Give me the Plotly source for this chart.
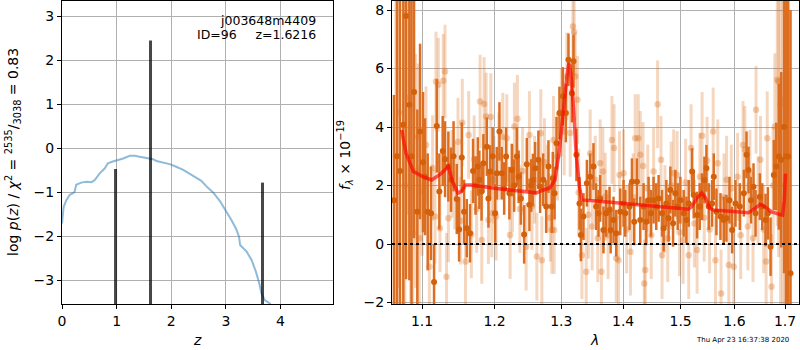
import plotly.graph_objects as go

# ---------------- left panel: log p(z) ----------------
z_grid = [0, 0.03, 0.08, 0.14, 0.20, 0.23, 0.26, 0.35, 0.45, 0.54,
          0.60, 0.69, 0.78, 0.84, 0.93, 1.03, 1.12, 1.24, 1.33, 1.42,
          1.58, 1.67, 1.73, 1.85, 1.97, 2.09, 2.22, 2.34, 2.46, 2.55,
          2.64, 2.77, 2.89, 3.01, 3.10, 3.19, 3.24, 3.26, 3.38, 3.47,
          3.55, 3.61, 3.65, 3.71, 3.82]
log_pz = [-1.71, -1.33, -1.18, -1.06, -1.02, -0.99, -0.83, -0.78, -0.76, -0.77,
          -0.72, -0.57, -0.46, -0.34, -0.30, -0.27, -0.23, -0.17, -0.17, -0.19,
          -0.23, -0.25, -0.29, -0.32, -0.36, -0.42, -0.49, -0.58, -0.68, -0.74,
          -0.86, -1.01, -1.20, -1.44, -1.63, -1.84, -2.01, -2.20, -2.35, -2.54,
          -2.81, -3.07, -3.30, -3.45, -3.54]
peak_z = [0.98, 1.62, 3.67]
peak_height = [-0.47, 2.45, -0.78]
peak_base = -4.0

# ---------------- right panel: spectrum ----------------
dark_lam = [1.0636, 1.0675, 1.0713, 1.0756, 1.0791, 1.0834, 1.0862, 1.0895, 1.0938, 1.0974,
            1.1013, 1.1040, 1.1075, 1.1119, 1.1160, 1.1196, 1.1231, 1.1276, 1.1308, 1.1353,
            1.1389, 1.1424, 1.1468, 1.1500, 1.1537, 1.1569, 1.1606, 1.1652, 1.1694, 1.1729,
            1.1761, 1.1783, 1.1814, 1.1840, 1.1889, 1.1912, 1.1936, 1.1972, 1.2008, 1.2032,
            1.2070, 1.2104, 1.2139, 1.2167, 1.2215, 1.2251, 1.2285, 1.2325, 1.2351, 1.2384,
            1.2433, 1.2473, 1.2512, 1.2539, 1.2564, 1.2598, 1.2648, 1.2674, 1.2720, 1.2766,
            1.2801, 1.2853, 1.2868, 1.2895, 1.2925, 1.2971, 1.3025, 1.3071, 1.3112, 1.3166,
            1.3191, 1.3238, 1.3286, 1.3309, 1.3350, 1.3405, 1.3458, 1.3511, 1.3555, 1.3593,
            1.3620, 1.3674, 1.3719, 1.3774, 1.3793, 1.3840, 1.3885, 1.3952, 1.4007, 1.4036,
            1.4109, 1.4149, 1.4188, 1.4234, 1.4291, 1.4348, 1.4395, 1.4434, 1.4476, 1.4521,
            1.4568, 1.4609, 1.4669, 1.4697, 1.4745, 1.4785, 1.4816, 1.4864, 1.4905, 1.4947,
            1.4995, 1.5055, 1.5104, 1.5146, 1.5208, 1.5237, 1.5299, 1.5347, 1.5391, 1.5434,
            1.5471, 1.5514, 1.5577, 1.5608, 1.5658, 1.5734, 1.5796, 1.5847, 1.5905, 1.5956,
            1.6020, 1.6103, 1.6181, 1.6233, 1.6272, 1.6321, 1.6370, 1.6410, 1.6495, 1.6542,
            1.6608, 1.6654, 1.6708, 1.6774, 1.6823, 1.6875, 1.6924, 1.6981, 1.7021, 1.7066,
            1.7113]
dark_flux = [1.5, 3.0, 2.5, 4.08, 7.8, 4.76, 3.0, 5.2, 1.1, 3.85,
             2.8, 2.3, 1.1, 1.05, -1.3, 4.04, 1.8, 3.18, 2.9, 2.65,
             2.2, 3.0, 1.54, 0.5, 2.96, 1.1, 0.54, 0.37, 2.5, 2.0,
             2.65, 2.2, 1.8, 2.76, 3.33, 1.56, 2.48, 3.0, 1.05, 2.42,
             3.85, 2.42, 1.9, 2.99, 1.74, 2.53, 2.0, 2.99, 2.3, 1.56,
             0.33, 2.73, 1.34, 2.0, 2.19, 2.59, 2.88, 1.96, 2.2, 1.28,
             2.65, 1.28, 2.25, 1.74, 3.45, 4.48, 5.05, 4.48, 6.3, 5.16,
             6.25, 3.05, 1.39, 0.31, 0.94, 2.08, 2.3, 2.65, 1.28, 1.05,
             1.56, 0.48, 1.05, 1.16, 0.48, 0.82, 0.37, 1.1, 1.39, 1.05,
             1.28, 2.13, 0.76, 2.13, 0.82, 1.28, 0.76, 1.5, 1.05, 1.5,
             1.28, 1.56, 1.05, 0.54, 1.39, 0.88, 1.85, 0.71, 1.74, 1.28,
             1.5, 1.05, 0.82, 1.39, 2.48, 1.68, 0.99, 1.28, 1.62, 2.19,
             2.59, 1.28, 1.39, 2.3, 1.1, 0.94, 0.82, 0.88, 1.5, 0.48,
             1.39, 1.28, 1.74, 3.05, 2.53, 1.5, 1.96, 1.05, 1.62, 1.28,
             0.82, 1.05, -0.09, 2.36, 2.65, 2.99, 2.88, 4.0, 3.0, 2.99,
             -1.0]
dark_err = [3.6, 9.0, 8.0, 8.0, 9.0, 6.0, 6.0, 5.0, 3.5, 3.0,
            2.4, 2.0, 2.0, 1.6, 1.3, 1.6, 1.3, 1.2, 1.3, 1.2,
            1.1, 1.2, 1.2, 1.1, 1.2, 1.1, 1.0, 1.0, 1.1, 1.0,
            1.0, 1.0, 1.0, 1.0, 1.0, 1.0, 0.9, 1.0, 1.0, 0.9,
            1.0, 0.9, 0.9, 1.0, 0.9, 0.9, 0.9, 1.0, 0.9, 0.9,
            1.0, 0.9, 0.9, 0.9, 0.9, 0.9, 1.0, 0.9, 0.9, 0.9,
            0.9, 0.9, 0.9, 0.9, 0.9, 0.9, 1.0, 1.0, 0.9, 1.0,
            0.9, 0.9, 0.9, 0.9, 0.8, 0.8, 0.8, 0.8, 0.8, 0.8,
            0.8, 0.8, 0.8, 0.8, 0.8, 0.8, 0.8, 0.8, 0.8, 0.8,
            0.8, 0.8, 0.8, 0.8, 0.8, 0.8, 0.8, 0.8, 0.8, 0.8,
            0.8, 0.8, 0.8, 0.8, 0.8, 0.8, 0.8, 0.8, 0.8, 0.8,
            0.8, 0.8, 0.8, 0.8, 0.8, 0.8, 0.8, 0.8, 0.8, 0.8,
            0.8, 0.8, 0.8, 0.8, 0.8, 0.8, 0.8, 0.8, 0.8, 0.8,
            0.8, 0.8, 0.8, 0.8, 0.8, 0.8, 0.8, 0.8, 0.8, 0.8,
            0.9, 0.9, 1.0, 1.2, 1.5, 2.5, 3.0, 5.0, 8.0, 9.0,
            9.0]

light_lam = [1.0660, 1.0700, 1.0775, 1.0821, 1.0850, 1.0878, 1.0915, 1.0951, 1.0964, 1.1000,
             1.1053, 1.1097, 1.1140, 1.1173, 1.1186, 1.1217, 1.1239, 1.1284, 1.1308, 1.1328,
             1.1353, 1.1401, 1.1441, 1.1485, 1.1520, 1.1544, 1.1589, 1.1633, 1.1670, 1.1710,
             1.1745, 1.1793, 1.1817, 1.1850, 1.1879, 1.1912, 1.1946, 1.1960, 1.1990, 1.2022,
             1.2060, 1.2119, 1.2177, 1.2226, 1.2260, 1.2289, 1.2333, 1.2370, 1.2410, 1.2463,
             1.2512, 1.2550, 1.2590, 1.2624, 1.2684, 1.2700, 1.2740, 1.2785, 1.2830, 1.2853,
             1.2878, 1.2889, 1.2940, 1.3000, 1.3045, 1.3087, 1.3140, 1.3182, 1.3202, 1.3218,
             1.3254, 1.3273, 1.3325, 1.3394, 1.3430, 1.3458, 1.3490, 1.3540, 1.3580, 1.3620,
             1.3640, 1.3664, 1.3703, 1.3750, 1.3813, 1.3850, 1.3885, 1.3923, 1.3940, 1.4007,
             1.4060, 1.4124, 1.4170, 1.4205, 1.4257, 1.4291, 1.4338, 1.4360, 1.4377, 1.4420,
             1.4480, 1.4521, 1.4591, 1.4651, 1.4669, 1.4720, 1.4770, 1.4830, 1.4875, 1.4936,
             1.4980, 1.5044, 1.5090, 1.5146, 1.5189, 1.5250, 1.5299, 1.5350, 1.5391, 1.5430,
             1.5484, 1.5530, 1.5597, 1.5640, 1.5683, 1.5745, 1.5800, 1.5850, 1.5892, 1.5940,
             1.5987, 1.6060, 1.6120, 1.6165, 1.6200, 1.6260, 1.6300, 1.6360, 1.6420, 1.6460,
             1.6507, 1.6570, 1.6620, 1.6642, 1.6728, 1.6760, 1.6794, 1.6843, 1.6870, 1.6910,
             1.6957, 1.7000]
light_flux = [3.0, 4.5, 2.0, 5.0, 3.0, 0.37, 2.5, 3.67, 0.2, 1.8,
              3.39, -0.78, 2.6, 0.94, 5.56, 5.45, 0.54, 5.58, 5.9, -1.12,
              0.88, 2.4, 2.0, 3.5, 0.8, 4.15, -0.6, 3.73, 0.33, 2.9,
              1.2, 4.87, 0.14, 4.79, 4.36, 0.82, 4.34, 1.05, 2.2, 0.94,
              3.0, 3.67, 3.62, 0.31, 1.9, 4.02, 4.28, 1.2, 2.5, -0.09,
              3.73, 1.3, 2.2, -0.43, 3.79, -0.55, 2.8, 1.9, 0.9, 0.48,
              3.56, 0.48, 2.99, 4.5, 3.85, 5.73, 3.8, 7.44, 7.25, 5.73,
              4.93, 1.76, -0.38, -0.95, 1.0, 3.1, 0.6, 2.2, 0.2, 2.76,
              -0.95, 2.48, 1.62, 0.3, 3.56, 3.28, -0.49, -0.55, 2.36, 2.42,
              0.5, -0.26, 1.6, 3.62, 3.62, 3.05, 2.67, -1.35, -0.89, 1.9,
              0.3, 2.48, 4.78, 2.88, -0.38, 1.2, 0.2, 2.0, 2.42, 2.36,
              0.4, 0.14, 2.1, -0.38, 3.28, 0.7, -0.2, 2.3, 3.7, 0.9,
              2.85, 0.5, 3.85, -0.55, 2.76, -1.69, 1.6, 2.2, -0.72, 1.9,
              -0.78, 2.3, 0.3, 3.39, 3.22, 0.6, 2.4, 0.2, 4.59, 1.5,
              2.88, 0.5, -0.6, 3.62, -1.46, 2.0, 4.02, 5.62, 5.56, 4.76,
              4.93, 2.0]
light_err = [7.0, 6.0, 7.0, 4.0, 5.0, 3.0, 4.0, 2.5, 2.5, 2.2,
             2.0, 1.8, 1.8, 1.6, 1.7, 1.6, 1.5, 1.6, 1.6, 1.5,
             1.5, 1.5, 1.5, 1.5, 1.5, 1.5, 1.5, 1.5, 1.5, 1.5,
             1.5, 1.6, 1.5, 1.6, 1.5, 1.5, 1.5, 1.5, 1.5, 1.5,
             1.5, 1.5, 1.5, 1.5, 1.5, 1.5, 1.5, 1.5, 1.5, 1.5,
             1.5, 1.5, 1.5, 1.5, 1.5, 1.5, 1.5, 1.5, 1.5, 1.5,
             1.5, 1.5, 1.5, 1.5, 1.5, 1.5, 1.5, 1.5, 1.5, 1.5,
             1.5, 1.5, 1.5, 1.5, 1.5, 1.5, 1.5, 1.5, 1.5, 1.5,
             1.5, 1.5, 1.5, 1.5, 1.5, 1.5, 1.5, 1.5, 1.5, 1.5,
             1.5, 1.5, 1.5, 1.5, 1.5, 1.5, 1.5, 1.5, 1.5, 1.5,
             1.5, 1.5, 1.5, 1.5, 1.5, 1.5, 1.5, 1.5, 1.5, 1.5,
             1.5, 1.5, 1.5, 1.5, 1.5, 1.5, 1.5, 1.5, 1.5, 1.5,
             1.5, 1.5, 1.5, 1.5, 1.5, 1.5, 1.5, 1.5, 1.5, 1.5,
             1.5, 1.5, 1.5, 1.5, 1.5, 1.5, 1.5, 1.5, 1.5, 1.5,
             1.5, 1.5, 1.6, 1.6, 1.8, 2.0, 2.5, 5.0, 6.0, 7.0,
             7.0, 8.0]

model_lam = [1.0734, 1.0791, 1.0886, 1.1017, 1.1128, 1.1250, 1.1353, 1.1410, 1.1485, 1.1530,
             1.1589, 1.1662, 1.2027, 1.2319, 1.2518, 1.2618, 1.2719, 1.2821, 1.2853, 1.2901,
             1.2971, 1.3030, 1.3087, 1.3118, 1.3149, 1.3191, 1.3233, 1.3286, 1.3325, 1.3560,
             1.4116, 1.4693, 1.5139, 1.5200, 1.5291, 1.5383, 1.5445, 1.5537, 1.5600, 1.5916,
             1.6270, 1.6368, 1.6500, 1.6599, 1.6732, 1.6900, 1.6950, 1.6985, 1.7010]
model_flux = [3.9, 3.1, 2.48, 2.3, 2.19, 2.4, 2.65, 2.13, 1.74, 1.79,
              2.02, 2.02, 1.90, 1.82, 1.75, 1.75, 1.84, 1.92, 2.02, 2.19,
              3.22, 4.59, 5.73, 6.19, 5.85, 4.70, 3.10, 1.96, 1.51, 1.47,
              1.36, 1.27, 1.19, 1.27, 1.56, 1.75, 1.61, 1.22, 1.16, 1.12,
              1.07, 1.18, 1.36, 1.27, 1.10, 1.01, 0.99, 1.5, 2.41]

lam_ticks = [1.1, 1.2, 1.3, 1.4, 1.5, 1.6, 1.7]
flux_ticks = [-2, 0, 2, 4, 6, 8]
z_ticks = [0, 1, 2, 3, 4]
logp_ticks = [-3, -2, -1, 0, 1, 2, 3]

obj_name = "j003648m4409"
obj_id = 96
z_best = 1.6216
timestamp = "Thu Apr 23 16:37:38 2020"


def minus(v):
    s = f"{v:g}"
    return s.replace("-", "\u2212")


W, H = 800, 350
FONT = "DejaVu Sans"
DARK_BAR = "rgb(220,110,34)"
DARK_MK = "rgb(212,96,10)"
LIGHT_BAR = "rgba(217,95,2,0.25)"
LIGHT_MK = "rgba(217,95,2,0.30)"

fig = go.Figure()

# left panel
fig.add_trace(go.Scatter(x=z_grid, y=log_pz, mode="lines",
                         line=dict(color="rgba(31,119,180,0.5)", width=2),
                         xaxis="x", yaxis="y", showlegend=False))
vx, vy = [], []
for zp, hp in zip(peak_z, peak_height):
    vx += [zp, zp, None]
    vy += [peak_base, hp, None]
fig.add_trace(go.Scatter(x=vx, y=vy, mode="lines",
                         line=dict(color="rgba(0,0,0,0.72)", width=3),
                         xaxis="x", yaxis="y", showlegend=False))

# right panel
fig.add_trace(go.Scatter(x=light_lam, y=light_flux, mode="markers",
                         marker=dict(color=LIGHT_MK, size=6.5, line=dict(width=0)),
                         error_y=dict(type="data", array=light_err, color=LIGHT_BAR,
                                      thickness=3, width=0),
                         xaxis="x2", yaxis="y2", showlegend=False))
fig.add_trace(go.Scatter(x=dark_lam, y=dark_flux, mode="markers",
                         marker=dict(color=DARK_MK, size=6, line=dict(width=0)),
                         error_y=dict(type="data", array=dark_err, color=DARK_BAR,
                                      thickness=2.5, width=0),
                         xaxis="x2", yaxis="y2", showlegend=False))
fig.add_trace(go.Scatter(x=model_lam, y=model_flux, mode="lines",
                         line=dict(color="rgba(255,0,0,0.65)", width=3.5),
                         xaxis="x2", yaxis="y2", showlegend=False))

ydom = [(H - 304) / H, (H - 1) / H]
axis_common = dict(showline=True, mirror=True, linecolor="black", linewidth=1,
                   ticks="outside", ticklen=4, tickcolor="black", tickwidth=1,
                   showgrid=True, gridcolor="#b0b0b0", gridwidth=1, zeroline=False,
                   automargin=False,
                   tickfont=dict(family=FONT, size=14, color="black"))

fig.update_layout(
    template="none",
    width=W, height=H,
    margin=dict(l=0, r=0, t=0, b=0, pad=0),
    paper_bgcolor="white", plot_bgcolor="white",
    font=dict(family=FONT, size=14, color="black"),
    xaxis=dict(domain=[62 / W, 333 / W], range=[0, 4.96], anchor="y",
               tickvals=z_ticks, ticktext=[minus(v) for v in z_ticks], **axis_common),
    yaxis=dict(domain=ydom, range=[-3.54, 3.35], anchor="x",
               tickvals=logp_ticks, ticktext=[minus(v) for v in logp_ticks], **axis_common),
    xaxis2=dict(domain=[392 / W, 799 / W], type="log", range=[0.02575, 0.23774], anchor="y2",
                tickvals=lam_ticks, ticktext=[f"{v:.1f}" for v in lam_ticks], **axis_common),
    yaxis2=dict(domain=ydom, range=[-2.05, 8.31], anchor="x2",
                tickvals=flux_ticks, ticktext=[minus(v) for v in flux_ticks], **axis_common),
    shapes=[dict(type="line", xref="x2 domain", yref="y2", x0=0, x1=1, y0=0, y1=0,
                 line=dict(color="black", width=2, dash="dot"))],
)

def px(x, y):
    return x / W, 1 - y / H

anns = []
ax, ay = px(318, 20)
anns.append(dict(x=ax, y=ay, xref="paper", yref="paper", text=obj_name,
                 xanchor="right", yanchor="middle", showarrow=False,
                 font=dict(family=FONT, size=12.5)))
ax, ay = px(318, 34)
anns.append(dict(x=ax, y=ay, xref="paper", yref="paper",
                 text=f"ID={obj_id}\u2002\u2002\u2002z={z_best:.4f}",
                 xanchor="right", yanchor="middle", showarrow=False,
                 font=dict(family=FONT, size=12.5)))
ax, ay = px(197, 340)
anns.append(dict(x=ax, y=ay, xref="paper", yref="paper", text="<i>z</i>",
                 xanchor="center", yanchor="middle", showarrow=False,
                 font=dict(family=FONT, size=14)))
ax, ay = px(594, 340)
anns.append(dict(x=ax, y=ay, xref="paper", yref="paper", text="<i>λ</i>",
                 xanchor="center", yanchor="middle", showarrow=False,
                 font=dict(family=FONT, size=14)))
ax, ay = px(13, 152)
anns.append(dict(x=ax, y=ay, xref="paper", yref="paper", textangle=-90,
                 text="log <i>p</i>(<i>z</i>) / <i>χ</i><sup>2</sup> = "
                      "<sup>2535</sup>/<sub>3038</sub> = 0.83",
                 xanchor="center", yanchor="middle", showarrow=False,
                 font=dict(family=FONT, size=14)))
ax, ay = px(345, 155)
anns.append(dict(x=ax, y=ay, xref="paper", yref="paper", textangle=-90,
                 text="<i>f</i><sub><i>λ</i></sub> × 10<sup>\u221219</sup>",
                 xanchor="center", yanchor="middle", showarrow=False,
                 font=dict(family=FONT, size=14)))
ax, ay = px(742, 340)
anns.append(dict(x=ax, y=ay, xref="paper", yref="paper", text=timestamp,
                 xanchor="center", yanchor="middle", showarrow=False,
                 font=dict(family=FONT, size=7)))
fig.update_layout(annotations=anns)

fig.write_html("out.html",
               config={"displayModeBar": False, "staticPlot": True},
               post_script="document.body.style.margin='0px';"
                           "document.body.style.padding='0px';"
                           "document.body.style.overflow='hidden';")
